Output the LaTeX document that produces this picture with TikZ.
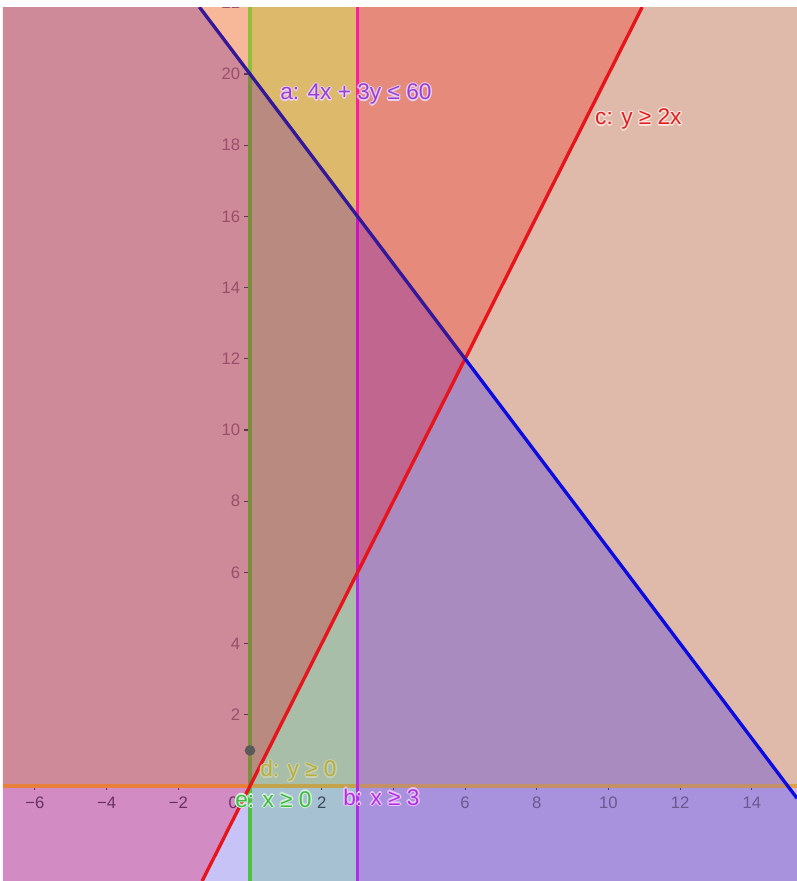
\documentclass[tikz,border=0pt]{standalone}
\usepackage{fontspec}
\setmainfont{Liberation Sans}
\usetikzlibrary{calc}

% region colours (inequalities satisfied)
\definecolor{rACD}{HTML}{CF8A99}
\definecolor{rCD}{HTML}{F7B899}
\definecolor{rAC}{HTML}{D38CC3}
\definecolor{rA}{HTML}{C8C3F7}
\definecolor{rCDE}{HTML}{DDB96B}
\definecolor{rACDE}{HTML}{B98B80}
\definecolor{rADE}{HTML}{A9BEA9}
\definecolor{rAE}{HTML}{A6C1D1}
\definecolor{rBCDE}{HTML}{E68A7B}
\definecolor{rBDE}{HTML}{DFBAAA}
\definecolor{rABCDE}{HTML}{C0668F}
\definecolor{rABDE}{HTML}{A98BC0}
\definecolor{rABE}{HTML}{A992DD}
\definecolor{rBE}{HTML}{D8B8DC}
% line colours
\definecolor{blueTop}{HTML}{33199A}
\definecolor{blueBot}{HTML}{0C0CE0}
\definecolor{redL}{HTML}{E8141C}
\definecolor{greenTop}{HTML}{90C03A}
\definecolor{greenMid}{HTML}{7A8E3C}
\definecolor{greenBot}{HTML}{50C040}
\definecolor{magTop}{HTML}{FF1EA0}
\definecolor{magMid}{HTML}{CF12C2}
\definecolor{magBot}{HTML}{B42CEA}
\definecolor{axL}{HTML}{E8803A}
\definecolor{axM}{HTML}{C4A44A}
\definecolor{axR}{HTML}{C49068}
\definecolor{axF}{HTML}{E0A048}
% text colours
\definecolor{ylab}{HTML}{98506A}
\definecolor{xlabL}{HTML}{6B3062}
\definecolor{xlabM}{HTML}{3A4858}
\definecolor{xlabR}{HTML}{6A5890}
\definecolor{tickC}{HTML}{5A3A50}
\definecolor{aText}{HTML}{9A40D0}
\definecolor{aHalo}{HTML}{EAD0F2}
\definecolor{cText}{HTML}{E02020}
\definecolor{cHalo}{HTML}{FBE2DC}
\definecolor{dText}{HTML}{B4B040}
\definecolor{dHalo}{HTML}{C8D0B0}
\definecolor{eText}{HTML}{40B848}
\definecolor{eHalo}{HTML}{D4F0D8}
\definecolor{bText}{HTML}{B030E8}
\definecolor{bHalo}{HTML}{EAC8F8}
\definecolor{ptC}{HTML}{5A5A5A}

\newcommand{\halolabel}[5]{%
  \foreach \hx/\hy in {-1/0,1/0,0/-1,0/1,-.7/-.7,.7/.7,-.7/.7,.7/-.7}{%
    \node[#1,text=#4,xshift=\hx pt,yshift=\hy pt] at (#3) {#5};}
  \node[#1] (#2) at (#3) {#5};}

\tikzset{
  lbl/.style={font=\fontsize{17}{19}\selectfont, inner sep=0pt, anchor=base west},
  axnum/.style={font=\fontsize{12.5}{14}\selectfont, inner sep=0pt},
  bound/.style={line width=2.5pt, line cap=butt},
  tick/.style={line width=0.8pt, tickC}
}

\begin{document}
\begin{tikzpicture}[x=26.8875pt,y=26.7pt]
\useasboundingbox (-6.9735,-2.6685) rectangle (15.258,22.079);
\fill[white] (-6.9735,-2.6685) rectangle (15.258,22.079);

% key coordinates
\coordinate (BL) at (-6.89,-2.6685);
\coordinate (BR) at (15.258,-2.6685);
\coordinate (TR) at (15.258,21.882);
\coordinate (TL) at (-6.89,21.882);
\coordinate (L0) at (-6.89,0);
\coordinate (R0) at (15.258,0);
\coordinate (O) at (0,0);
\coordinate (O20) at (0,20);
\coordinate (OT) at (0,21.882);
\coordinate (OB) at (0,-2.6685);
\coordinate (T0) at (3,0);
\coordinate (T6) at (3,6);
\coordinate (T16) at (3,16);
\coordinate (TT) at (3,21.882);
\coordinate (TB) at (3,-2.6685);
\coordinate (P) at (6,12);
\coordinate (F0) at (15,0);
\coordinate (blueTopC) at (-1.4115,21.882);
\coordinate (blueEnd) at (15.258,-0.344);
\coordinate (redTopC) at (10.941,21.882);
\coordinate (redBot) at (-1.334,-2.6685);

\begin{scope}
\clip (BL) rectangle (TR);
% ---- shaded regions ----
\fill[rACD] (L0) -- (O) -- (O20) -- (blueTopC) -- (TL) -- cycle;
\fill[rCD] (blueTopC) -- (O20) -- (OT) -- cycle;
\fill[rAC] (BL) -- (redBot) -- (O) -- (L0) -- cycle;
\fill[rA] (redBot) -- (OB) -- (O) -- cycle;
\fill[rCDE] (O20) -- (T16) -- (TT) -- (OT) -- cycle;
\fill[rACDE] (O) -- (O20) -- (T16) -- (T6) -- cycle;
\fill[rADE] (O) -- (T6) -- (T0) -- cycle;
\fill[rAE] (OB) -- (TB) -- (T0) -- (O) -- cycle;
\fill[rBCDE] (T16) -- (P) -- (redTopC) -- (TT) -- cycle;
\fill[rBDE] (P) -- (F0) -- (R0) -- (TR) -- (redTopC) -- cycle;
\fill[rABCDE] (T6) -- (T16) -- (P) -- cycle;
\fill[rABDE] (T0) -- (T6) -- (P) -- (F0) -- cycle;
\fill[rABE] (TB) -- (BR) -- (blueEnd) -- (F0) -- (T0) -- cycle;
\fill[rBE] (F0) -- (R0) -- (blueEnd) -- cycle;

% ---- axis ticks and numbers ----
\foreach \k in {2,4,...,22}{
  \draw[tick] (-0.17,\k) -- (-0.03,\k);
  \node[axnum,text=ylab,anchor=east] (y\k) at (-0.27,\k) {\k};
}
\foreach \k in {-6,-4,-2,0,2,4,6,8,10,12,14}{
  \draw[tick] (\k,0) -- (\k,-0.12);
}
\node[axnum,text=xlabL,anchor=north] (xm6) at (-6,-0.31) {−6};
\node[axnum,text=xlabL,anchor=north] (xm4) at (-4,-0.31) {−4};
\node[axnum,text=xlabL,anchor=north] (xm2) at (-2,-0.31) {−2};
\node[axnum,text=xlabL,anchor=north] (x0) at (-0.47,-0.31) {0};
\node[axnum,text=xlabM,anchor=north] (x2) at (2,-0.31) {2};
\foreach \k in {6,8,10,12,14}{
  \node[axnum,text=xlabR,anchor=north] (x\k) at (\k,-0.31) {\k};
}

% ---- boundary lines ----
\draw[bound,axL] (L0) -- (O);
\draw[bound,axM] (O) -- (T0);
\draw[bound,axR] (T0) -- (F0);
\draw[bound,axF] (F0) -- (R0);

\draw[bound,greenTop] (OT) -- (O20);
\draw[bound,greenMid] (O20) -- (O);
\draw[bound,greenBot] (O) -- (OB);

\draw[bound,magTop] (TT) -- (T16);
\draw[bound,magMid] (T16) -- (T6);
\draw[bound,magBot] (T6) -- (TB);

\draw[bound,redL] (redBot) -- (redTopC);

\draw[bound,blueTop] (blueTopC) -- (P);
\draw[bound,blueBot] (P) -- (blueEnd);

% ---- point ----
\coordinate (A) at (0,1);
\fill[ptC] (A) circle (4pt);

% ---- labels ----
\halolabel{lbl,text=aText}{la}{0.837,19.27}{aHalo}{a: 4x + 3y ≤ 60}
\halolabel{lbl,text=cText}{lc}{9.623,18.57}{cHalo}{c: y ≥ 2x}
\halolabel{lbl,text=dText}{ld}{0.28,0.253}{dHalo}{d: y ≥ 0}
\halolabel{lbl,text=eText}{le}{-0.418,-0.59}{eHalo}{e: x ≥ 0}
\halolabel{lbl,text=bText}{lb}{2.594,-0.534}{bHalo}{b: x ≥ 3}
\end{scope}
\end{tikzpicture}
\end{document}
